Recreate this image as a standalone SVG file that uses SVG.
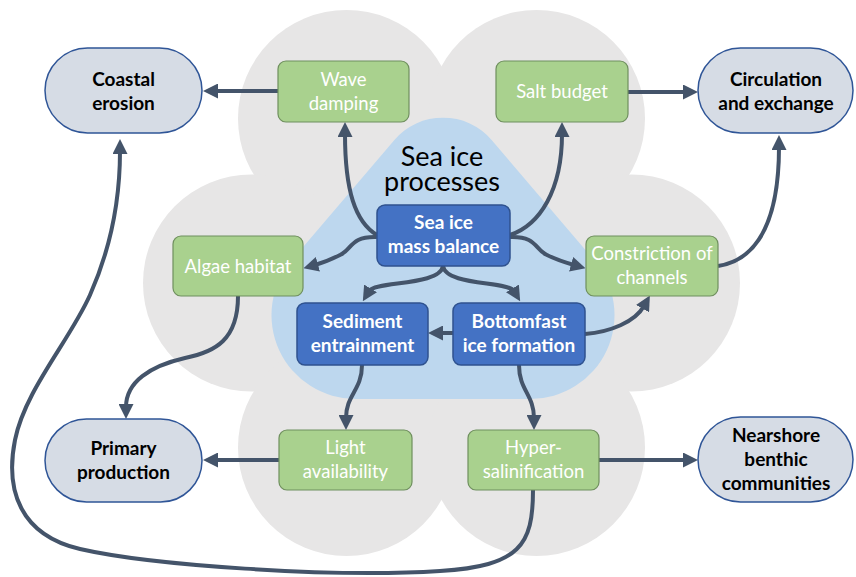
<svg xmlns="http://www.w3.org/2000/svg" width="856" height="577" viewBox="0 0 856 577">
<defs>
<style>
.flower{fill:#e7e6e6}
.tri{fill:#bdd7ee}
.oval{fill:#d6dce5;stroke:#2f5597;stroke-width:1.5}
.green{fill:#a9d18e;stroke:#6f8f5e;stroke-width:1.2}
.blue{fill:#4472c4;stroke:#2f528f;stroke-width:1.5}
.tb{font-family:Lato,'Liberation Sans',sans-serif;font-weight:bold;font-size:19px;fill:#000;text-anchor:middle}
.tw{font-family:Lato,'Liberation Sans',sans-serif;font-weight:bold;font-size:19px;fill:#fff;text-anchor:middle}
.tg{font-family:Lato,'Liberation Sans',sans-serif;font-size:18.5px;fill:#fff;text-anchor:middle}
.title{font-family:Lato,'Liberation Sans',sans-serif;font-size:27px;fill:#000;text-anchor:middle}
.c{fill:none;stroke:#44546a;stroke-width:4;marker-end:url(#ah)}
</style>
<marker id="ah" viewBox="0 0 15 15" refX="3" refY="7.5" markerWidth="15" markerHeight="15" markerUnits="userSpaceOnUse" orient="auto">
<path d="M0,0 L15,7.5 L0,15 Z" fill="#44546a"/>
</marker>
</defs>
<rect width="856" height="577" fill="#fff"/>
<g id="background">
<circle class="flower" cx="441.5" cy="283" r="112"/>
<circle class="flower" cx="346.5" cy="118.5" r="108.5"/>
<circle class="flower" cx="536.5" cy="118.5" r="108.5"/>
<circle class="flower" cx="251.5" cy="283" r="108.5"/>
<circle class="flower" cx="631.5" cy="283" r="108.5"/>
<circle class="flower" cx="346.5" cy="447.5" r="108.5"/>
<circle class="flower" cx="536.5" cy="447.5" r="108.5"/>
<path class="tri" d="M394.4,140 A64,64 0 0 1 491.6,140 L594,260 A84,84 0 0 1 530,399 L356,399 A84,84 0 0 1 292,260 Z"/>
<text class="title" x="442" y="166">Sea ice</text>
<text class="title" x="442" y="191">processes</text>
</g>
<g id="connectors">
<path class="c" d="M278,91 L215,91"/>
<path class="c" d="M628,92 L686,92"/>
<path class="c" d="M279,460 L215,460"/>
<path class="c" d="M599,460 L686,460"/>
<path class="c" d="M453,333 L440,333"/>
<path class="c" d="M377,235 C355,222 345,190 345,134"/>
<path class="c" d="M510,235 C540,225 562,190 562,134"/>
<path class="c" d="M377,237 C350,236 352,250 340,255 C330,260 322,263 315,265"/>
<path class="c" d="M510,237 C537,236 535,250 547,255 C557,260 567,263 574,265"/>
<path class="c" d="M443,266 C440,286 375,281 369,291"/>
<path class="c" d="M443,266 C446,286 508,281 514,291"/>
<path class="c" d="M585,334 C610,332 635,322 644,306"/>
<path class="c" d="M718,266 C745,262 779,240 779,147"/>
<path class="c" d="M238,296 C238,340 215,352 185,358 C150,366 126,382 126,407"/>
<path class="c" d="M362,365 C362,390 346,395 346,418"/>
<path class="c" d="M519,365 C519,390 534,395 534,418"/>
<path class="c" d="M533,490 C533,545 520,566 440,571 C330,578 150,565 80,549 C20,535 5,490 15,440 C25,390 70,340 90,295 C110,250 120,200 120,151"/>
</g>
<g id="coastal-erosion">
<rect class="oval" x="45" y="48" width="157" height="85" rx="42.5"/>
<text class="tb" x="123.5" y="86">Coastal</text>
<text class="tb" x="123.5" y="110">erosion</text>
</g>
<g id="circulation">
<rect class="oval" x="698" y="48" width="155" height="85" rx="42.5"/>
<text class="tb" x="776" y="86">Circulation</text>
<text class="tb" x="776" y="110">and exchange</text>
</g>
<g id="primary-production">
<rect class="oval" x="45" y="419" width="157" height="83" rx="41.5"/>
<text class="tb" x="123.5" y="455">Primary</text>
<text class="tb" x="123.5" y="479">production</text>
</g>
<g id="nearshore">
<rect class="oval" x="698" y="417" width="155" height="85" rx="42.5"/>
<text class="tb" x="776" y="442">Nearshore</text>
<text class="tb" x="776" y="466">benthic</text>
<text class="tb" x="776" y="490">communities</text>
</g>
<g id="wave-damping">
<rect class="green" x="278" y="61" width="131" height="61" rx="8"/>
<text class="tg" x="343.5" y="86">Wave</text>
<text class="tg" x="343.5" y="110">damping</text>
</g>
<g id="salt-budget">
<rect class="green" x="496" y="61" width="132" height="61" rx="8"/>
<text class="tg" x="562" y="98">Salt budget</text>
</g>
<g id="algae-habitat">
<rect class="green" x="173" y="236" width="130" height="60" rx="8"/>
<text class="tg" x="238" y="273">Algae habitat</text>
</g>
<g id="constriction">
<rect class="green" x="586" y="236" width="132" height="60" rx="8"/>
<text class="tg" x="652" y="260">Constriction of</text>
<text class="tg" x="652" y="284">channels</text>
</g>
<g id="light-availability">
<rect class="green" x="279" y="430" width="133" height="60" rx="8"/>
<text class="tg" x="345.5" y="454">Light</text>
<text class="tg" x="345.5" y="478">availability</text>
</g>
<g id="hyper-salinification">
<rect class="green" x="468" y="430" width="131" height="60" rx="8"/>
<text class="tg" x="533.5" y="454">Hyper-</text>
<text class="tg" x="533.5" y="478">salinification</text>
</g>
<g id="sea-ice-mass-balance">
<rect class="blue" x="377" y="205" width="133" height="61" rx="8"/>
<text class="tw" x="443.5" y="229">Sea ice</text>
<text class="tw" x="443.5" y="253">mass balance</text>
</g>
<g id="sediment-entrainment">
<rect class="blue" x="297" y="303" width="131" height="62" rx="8"/>
<text class="tw" x="362.5" y="328">Sediment</text>
<text class="tw" x="362.5" y="352">entrainment</text>
</g>
<g id="bottomfast-ice">
<rect class="blue" x="453" y="303" width="132" height="62" rx="8"/>
<text class="tw" x="519" y="328">Bottomfast</text>
<text class="tw" x="519" y="352">ice formation</text>
</g>
</svg>
